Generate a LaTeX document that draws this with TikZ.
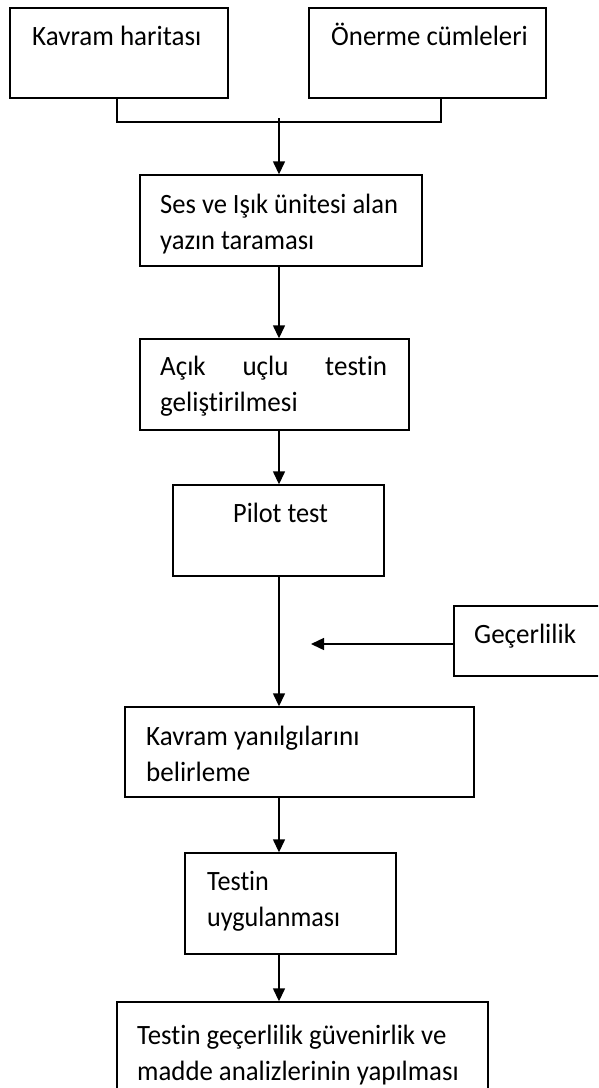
\documentclass[tikz,border=0pt]{standalone}
\usepackage{fontspec}
\setmainfont{Carlito}[Ligatures={NoCommon,NoContextual}]
\usetikzlibrary{arrows.meta}
% box text: left-aligned lines, stretched vertically (optional horizontal factor)
\newcommand\boxtext[2][1]{\scalebox{#1}[1.2]{\begin{tabular}[t]{@{}l@{}}#2\end{tabular}}}
\begin{document}
\begin{tikzpicture}[x=1pt,y=-1pt,
  box/.style={draw, line width=1.4pt, inner sep=0pt, fill=none},
  txt/.style={inner sep=0pt, anchor=base west, font=\fontsize{23.3}{30}\selectfont},
  link/.style={line width=1.4pt},
  arr/.style={line width=1.4pt, -{Triangle[length=13pt,width=12pt]}}]
\fill[white] (0,0) rectangle (598,1088);
\clip (0,0) rectangle (598,1088);

% boxes
\node[box, minimum width=218, minimum height=90]  (A) at (119,53) {};
\node[box, minimum width=237, minimum height=90]  (B) at (427.5,53) {};
\node[box, minimum width=282, minimum height=91]  (C) at (281,220.5) {};
\node[box, minimum width=269, minimum height=91]  (D) at (274.5,384.5) {};
\node[box, minimum width=211, minimum height=91]  (E) at (278.5,530.5) {};
\node[box, minimum width=186, minimum height=70]  (F) at (547,641) {};
\node[box, minimum width=349, minimum height=90]  (G) at (299.5,752) {};
\node[box, minimum width=211, minimum height=101] (H) at (290.5,903.5) {};
\node[box, minimum width=371, minimum height=108] (I) at (302.5,1056) {};

% texts
\node[txt] (tA) at (32,45)    {\boxtext[1.16]{Kavram haritası}};
\node[txt] (tB) at (331,45)   {\boxtext[1.15]{Önerme cümleleri}};
\node[txt] (tC) at (160,213)  {\boxtext[1.14]{Ses ve Işık ünitesi alan\\yazın taraması}};
\node[txt] (tD) at (160,375)  {\boxtext[1.16]{\makebox[195.7pt][l]{Açık\hfill uçlu\hfill testin}\\geliştirilmesi}};
\node[txt] (tE) at (233,522)  {\boxtext[1.13]{Pilot test}};
\node[txt] (tF) at (474,643)  {\boxtext[1.16]{Geçerlilik}};
\node[txt] (tG) at (146,745)  {\boxtext[1.16]{Kavram yanılgılarını\\belirleme}};
\node[txt] (tH) at (207,890)  {\boxtext[1.12]{Testin\\uygulanması}};
\node[txt] (tI) at (137,1044) {\boxtext[1.15]{Testin geçerlilik güvenirlik ve\\madde analizlerinin yapılması}};

% connector helpers
\coordinate (jA) at (117,122);
\coordinate (jB) at (441,122);
\coordinate (jT) at (279,118);
\coordinate (sx) at (279,0);
\coordinate (gEnd) at (311,644);

% joining the two top boxes
\draw[link] (A.south -| jA) -- (jA) -- (jB) -- (B.south -| jB);
\draw[arr] (jT) -- (C.north -| jT);

% main spine
\draw[arr] (C.south -| sx) -- (D.north -| sx);
\draw[arr] (D.south -| sx) -- (E.north -| sx);
\draw[arr] (E.south -| sx) -- (G.north -| sx);
\draw[arr] (G.south -| sx) -- (H.north -| sx);
\draw[arr] (H.south -| sx) -- (I.north -| sx);

% side input
\draw[arr] (F.west |- gEnd) -- (gEnd);
\end{tikzpicture}
\end{document}
